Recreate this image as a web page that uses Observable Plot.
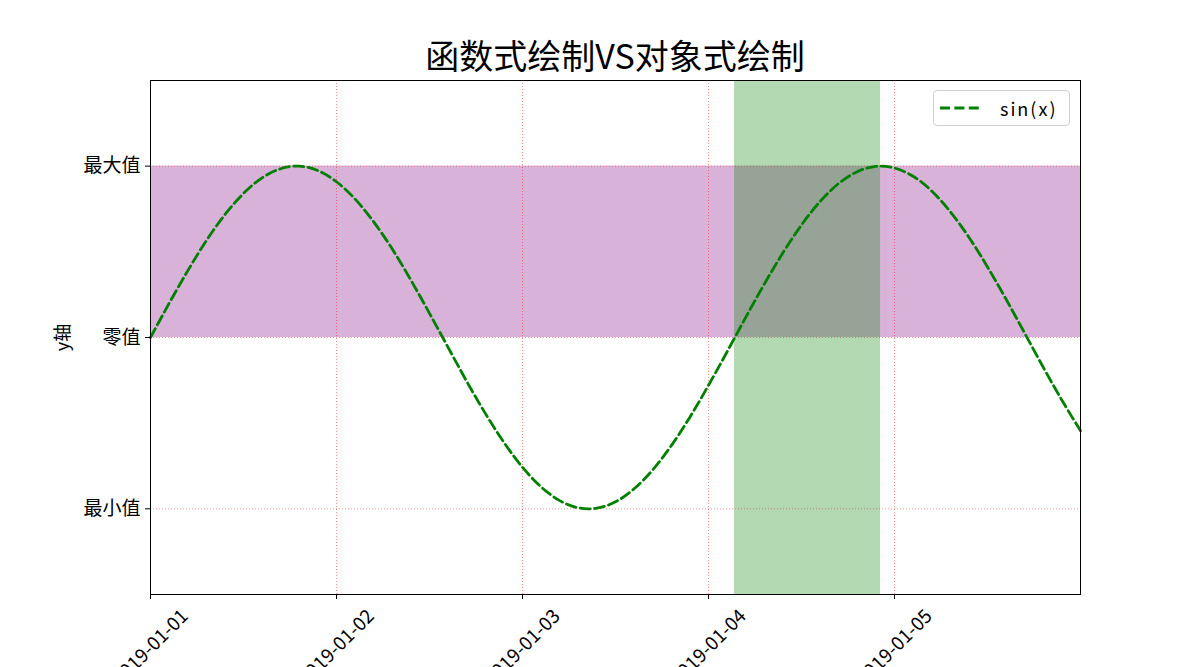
<!DOCTYPE html>
<html>
<head>
<meta charset="utf-8">
<script src="https://cdn.jsdelivr.net/npm/d3@7"></script>
<script src="https://cdn.jsdelivr.net/npm/@observablehq/plot@0.6"></script>
<style>
  html, body { margin: 0; padding: 0; background: #fff; }
  #wrap { position: relative; width: 1200px; height: 667px; overflow: hidden; font-family: 'Noto Sans CJK SC', sans-serif; }
  #title { position: absolute; left: 150px; width: 930px; top: 38px; text-align: center; font-size: 34px; line-height: 1; color: #000; }
  #legend { position: absolute; left: 933px; top: 90px; width: 137px; height: 36px; border: 1px solid #d0d0d0; border-radius: 4px; background: rgba(255,255,255,0.8); box-sizing: border-box; display: flex; align-items: center; }
  #legend span { font-size: 18px; color: #000; margin-left: 14px; letter-spacing: 2px; }
</style>
</head>
<body>
<div id="wrap">
  <div id="chart"></div>
  <div id="title">函数式绘制VS对象式绘制</div>
  <div id="legend">
    <svg width="46" height="10" style="margin-left:6px"><line x1="0" y1="5" x2="43" y2="5" stroke="green" stroke-width="2.8" stroke-dasharray="10,4.4"></line></svg>
    <span>sin(x)</span>
  </div>
</div>
<script>
// ---- data ----
const baseDate = "2019-01-01";
const xTickLabels = ["2019-01-01", "2019-01-02", "2019-01-03", "2019-01-04", "2019-01-05"];
const xDomainDays = [0, 5];
// time offsets in days from 2019-01-01
const tDays = [0, 0.1, 0.2, 0.3, 0.4, 0.5, 0.6, 0.7, 0.8, 0.9,
  1.0, 1.1, 1.2, 1.3, 1.4, 1.5, 1.6, 1.7, 1.8, 1.9,
  2.0, 2.1, 2.2, 2.3, 2.4, 2.5, 2.6, 2.7, 2.8, 2.9,
  3.0, 3.1, 3.2, 3.3, 3.4, 3.5, 3.6, 3.7, 3.8, 3.9,
  4.0, 4.1, 4.2, 4.3, 4.4, 4.5, 4.6, 4.7, 4.8, 4.9, 5.0];
const sinValues = [0, 0.199, 0.389, 0.565, 0.717, 0.841, 0.932, 0.985, 1.000, 0.974,
  0.909, 0.808, 0.675, 0.516, 0.335, 0.141, -0.058, -0.256, -0.443, -0.612,
  -0.757, -0.872, -0.952, -0.994, -0.996, -0.959, -0.883, -0.773, -0.631, -0.465,
  -0.279, -0.083, 0.117, 0.312, 0.494, 0.657, 0.794, 0.899, 0.968, 0.999,
  0.989, 0.941, 0.855, 0.734, 0.585, 0.412, 0.223, 0.025, -0.174, -0.366, -0.544];
const yTickValues = [-1, 0, 1];
const yTickLabels = ["最小值", "零值", "最大值"];
const yDomain = [-1.5, 1.5];
const hSpan = [0, 1];          // purple horizontal span (y)
const vSpanDays = [3.14, 3.925]; // green vertical span (x, days)

// ---- build ----
const base = new Date(baseDate + "T00:00:00Z").getTime();
const toDate = d => new Date(base + d * 864e5);
const data = tDays.map((t, i) => ({date: toDate(t), value: sinValues[i]}));
const xTicks = xTickLabels.map(s => new Date(s + "T00:00:00Z"));
const xDomain = xDomainDays.map(toDate);
const yLabelMap = new Map(yTickValues.map((v, i) => [v, yTickLabels[i]]));

const chart = Plot.plot({
  width: 1200,
  height: 667,
  marginLeft: 150,
  marginRight: 120,
  marginTop: 80,
  marginBottom: 73,
  style: {fontFamily: "'Noto Sans CJK SC', sans-serif", color: "#000", background: "transparent", overflow: "visible"},
  x: {type: "utc", domain: xDomain},
  y: {domain: yDomain},
  marks: [
    Plot.rect([hSpan], {x1: () => xDomain[0], x2: () => xDomain[1], y1: d => d[0], y2: d => d[1], fill: "purple", fillOpacity: 0.3}),
    Plot.gridX(xTicks, {stroke: "red", strokeOpacity: 0.55, strokeWidth: 0.8, strokeDasharray: "1,2"}),
    Plot.gridY(yTickValues, {stroke: "red", strokeOpacity: 0.55, strokeWidth: 0.8, strokeDasharray: "1,2"}),
    Plot.rect([vSpanDays], {x1: d => toDate(d[0]), x2: d => toDate(d[1]), y1: () => yDomain[0], y2: () => yDomain[1], fill: "green", fillOpacity: 0.3}),
    Plot.line(data, {x: "date", y: "value", stroke: "green", strokeWidth: 2.8, strokeDasharray: "10,4.4", curve: "natural"}),
    Plot.frame({stroke: "#000", strokeWidth: 1}),
    Plot.axisY({ticks: yTickValues, tickFormat: v => yLabelMap.get(v), tickSize: 5, tickPadding: 5, fontSize: 19, label: null}),
    Plot.axisX({ticks: xTicks, tickFormat: () => "", tickSize: 5, label: null}),
    Plot.text(xTicks, {x: d => d, text: (d, i) => xTickLabels[i], frameAnchor: "bottom", dy: 53, rotate: -45, textAnchor: "middle", lineAnchor: "middle", fontSize: 19, fill: "#000"}),
    Plot.text(["y轴"], {text: d => d, frameAnchor: "left", dx: -87, rotate: -90, textAnchor: "middle", lineAnchor: "middle", fontSize: 18, fill: "#000"})
  ]
});
document.getElementById("chart").appendChild(chart);
</script>
</body>
</html>
